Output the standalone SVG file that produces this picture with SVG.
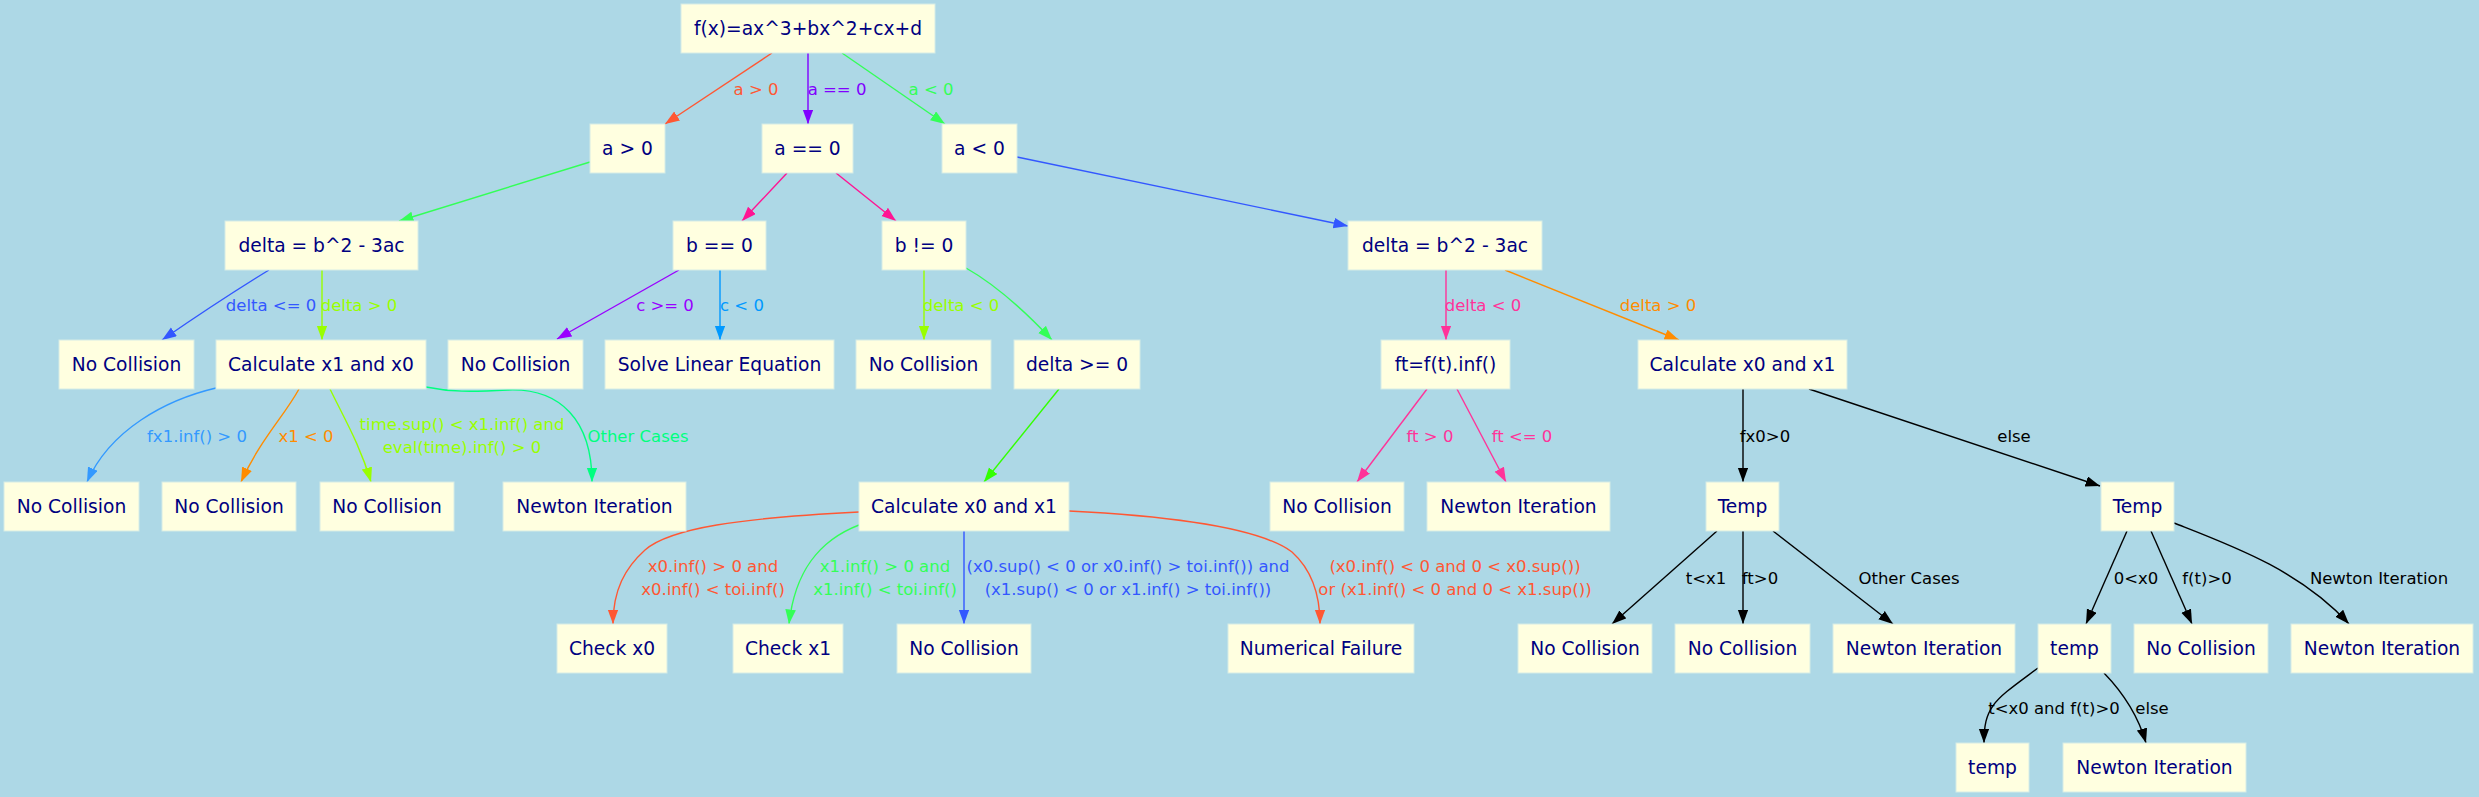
<svg xmlns="http://www.w3.org/2000/svg" width="2479" height="797" viewBox="0 0 2479 797">
<style>
.bg{fill:#ADD8E6}
.node rect{fill:#FFFFE0;stroke:#d6ece6;stroke-width:1}
.node text{font-family:"DejaVu Sans","Liberation Sans",sans-serif;font-size:18.67px;fill:#000080;text-anchor:middle}
.edges path{fill:none;stroke-width:1.4}
.lbl{font-family:"DejaVu Sans","Liberation Sans",sans-serif;font-size:16.5px;text-anchor:middle}
</style>
<defs>
<marker id="m-tomato" markerUnits="userSpaceOnUse" markerWidth="16" markerHeight="12" refX="14.5" refY="5.3" orient="auto"><path d="M0,0 L14.5,5.3 L0,10.6 z" fill="#FF5733"/></marker>
<marker id="m-purple" markerUnits="userSpaceOnUse" markerWidth="16" markerHeight="12" refX="14.5" refY="5.3" orient="auto"><path d="M0,0 L14.5,5.3 L0,10.6 z" fill="#8000FF"/></marker>
<marker id="m-purple2" markerUnits="userSpaceOnUse" markerWidth="16" markerHeight="12" refX="14.5" refY="5.3" orient="auto"><path d="M0,0 L14.5,5.3 L0,10.6 z" fill="#9900FF"/></marker>
<marker id="m-green" markerUnits="userSpaceOnUse" markerWidth="16" markerHeight="12" refX="14.5" refY="5.3" orient="auto"><path d="M0,0 L14.5,5.3 L0,10.6 z" fill="#33FF57"/></marker>
<marker id="m-deeppink" markerUnits="userSpaceOnUse" markerWidth="16" markerHeight="12" refX="14.5" refY="5.3" orient="auto"><path d="M0,0 L14.5,5.3 L0,10.6 z" fill="#FF1493"/></marker>
<marker id="m-blue" markerUnits="userSpaceOnUse" markerWidth="16" markerHeight="12" refX="14.5" refY="5.3" orient="auto"><path d="M0,0 L14.5,5.3 L0,10.6 z" fill="#3357FF"/></marker>
<marker id="m-yg" markerUnits="userSpaceOnUse" markerWidth="16" markerHeight="12" refX="14.5" refY="5.3" orient="auto"><path d="M0,0 L14.5,5.3 L0,10.6 z" fill="#99FF00"/></marker>
<marker id="m-sky" markerUnits="userSpaceOnUse" markerWidth="16" markerHeight="12" refX="14.5" refY="5.3" orient="auto"><path d="M0,0 L14.5,5.3 L0,10.6 z" fill="#0099FF"/></marker>
<marker id="m-lblue" markerUnits="userSpaceOnUse" markerWidth="16" markerHeight="12" refX="14.5" refY="5.3" orient="auto"><path d="M0,0 L14.5,5.3 L0,10.6 z" fill="#3399FF"/></marker>
<marker id="m-orange" markerUnits="userSpaceOnUse" markerWidth="16" markerHeight="12" refX="14.5" refY="5.3" orient="auto"><path d="M0,0 L14.5,5.3 L0,10.6 z" fill="#FF8C00"/></marker>
<marker id="m-spring" markerUnits="userSpaceOnUse" markerWidth="16" markerHeight="12" refX="14.5" refY="5.3" orient="auto"><path d="M0,0 L14.5,5.3 L0,10.6 z" fill="#00FF7F"/></marker>
<marker id="m-lime" markerUnits="userSpaceOnUse" markerWidth="16" markerHeight="12" refX="14.5" refY="5.3" orient="auto"><path d="M0,0 L14.5,5.3 L0,10.6 z" fill="#33FF00"/></marker>
<marker id="m-hotpink" markerUnits="userSpaceOnUse" markerWidth="16" markerHeight="12" refX="14.5" refY="5.3" orient="auto"><path d="M0,0 L14.5,5.3 L0,10.6 z" fill="#FF3399"/></marker>
<marker id="m-black" markerUnits="userSpaceOnUse" markerWidth="16" markerHeight="12" refX="14.5" refY="5.3" orient="auto"><path d="M0,0 L14.5,5.3 L0,10.6 z" fill="#000000"/></marker>
</defs>
<rect class="bg" x="0" y="0" width="2479" height="797"/>

<g id="connectors" class="edges">
<path d="M772,53 L665,124" stroke="#FF5733" marker-end="url(#m-tomato)"/>
<path d="M808,53 L808,124" stroke="#8000FF" marker-end="url(#m-purple)"/>
<path d="M842,53 L945,124" stroke="#33FF57" marker-end="url(#m-green)"/>
<path d="M590,162 L399,221" stroke="#33FF57" marker-end="url(#m-green)"/>
<path d="M787,173 L742,221" stroke="#FF1493" marker-end="url(#m-deeppink)"/>
<path d="M836,173 L896,221" stroke="#FF1493" marker-end="url(#m-deeppink)"/>
<path d="M1017,157 L1348,226" stroke="#3357FF" marker-end="url(#m-blue)"/>
<path d="M269,270 Q220,300 162,340" stroke="#3357FF" marker-end="url(#m-blue)"/>
<path d="M322,270 L322,340" stroke="#99FF00" marker-end="url(#m-yg)"/>
<path d="M679,270 L557,339" stroke="#9900FF" marker-end="url(#m-purple2)"/>
<path d="M720,270 L720,340" stroke="#0099FF" marker-end="url(#m-sky)"/>
<path d="M924,270 L924,340" stroke="#99FF00" marker-end="url(#m-yg)"/>
<path d="M966,268 Q1005,290 1052,340" stroke="#33FF57" marker-end="url(#m-green)"/>
<path d="M1446,270 L1446,340" stroke="#FF3399" marker-end="url(#m-hotpink)"/>
<path d="M1505,270 L1679,340" stroke="#FF8C00" marker-end="url(#m-orange)"/>
<path d="M216,388 C165,400 110,430 87,482" stroke="#3399FF" marker-end="url(#m-lblue)"/>
<path d="M299,389 C285,415 260,440 241,482" stroke="#FF8C00" marker-end="url(#m-orange)"/>
<path d="M330,389 C345,420 360,445 371,482" stroke="#99FF00" marker-end="url(#m-yg)"/>
<path d="M426,387 C450,392 470,392 508,390 C560,388 592,420 592,482" stroke="#00FF7F" marker-end="url(#m-spring)"/>
<path d="M1059,389 L984,482" stroke="#33FF00" marker-end="url(#m-lime)"/>
<path d="M1427,389 L1357,482" stroke="#FF3399" marker-end="url(#m-hotpink)"/>
<path d="M1457,389 L1506,482" stroke="#FF3399" marker-end="url(#m-hotpink)"/>
<path d="M1743,389 L1743,482" stroke="#000000" marker-end="url(#m-black)"/>
<path d="M1809,389 L2100,486" stroke="#000000" marker-end="url(#m-black)"/>
<path d="M859,512 C740,518 670,528 645,550 C625,568 613,590 613,624" stroke="#FF5733" marker-end="url(#m-tomato)"/>
<path d="M859,525 C820,540 795,570 789,624" stroke="#33FF57" marker-end="url(#m-green)"/>
<path d="M964,531 L964,624" stroke="#3357FF" marker-end="url(#m-blue)"/>
<path d="M1069,511 C1170,516 1260,528 1292,552 C1312,570 1320,595 1320,624" stroke="#FF5733" marker-end="url(#m-tomato)"/>
<path d="M1717,531 L1612,624" stroke="#000000" marker-end="url(#m-black)"/>
<path d="M1743,531 L1743,624" stroke="#000000" marker-end="url(#m-black)"/>
<path d="M1773,531 L1893,624" stroke="#000000" marker-end="url(#m-black)"/>
<path d="M2127,531 L2086,624" stroke="#000000" marker-end="url(#m-black)"/>
<path d="M2151,531 L2192,624" stroke="#000000" marker-end="url(#m-black)"/>
<path d="M2174,523 C2230,545 2300,570 2349,624" stroke="#000000" marker-end="url(#m-black)"/>
<path d="M2038,668 C1995,700 1984,705 1984,743" stroke="#000000" marker-end="url(#m-black)"/>
<path d="M2104,673 Q2135,705 2146,743" stroke="#000000" marker-end="url(#m-black)"/>

<text class="lbl" x="756" y="95" fill="#FF5733">a &gt; 0</text>
<text class="lbl" x="837" y="95" fill="#8000FF">a == 0</text>
<text class="lbl" x="931" y="95" fill="#33FF57">a &lt; 0</text>
<text class="lbl" x="271" y="311" fill="#3357FF">delta &lt;= 0</text>
<text class="lbl" x="359" y="311" fill="#99FF00">delta &gt; 0</text>
<text class="lbl" x="665" y="311" fill="#9900FF">c &gt;= 0</text>
<text class="lbl" x="742" y="311" fill="#0099FF">c &lt; 0</text>
<text class="lbl" x="961" y="311" fill="#99FF00">delta &lt; 0</text>
<text class="lbl" x="1483" y="311" fill="#FF3399">delta &lt; 0</text>
<text class="lbl" x="1658" y="311" fill="#FF8C00">delta &gt; 0</text>
<text class="lbl" x="197" y="442" fill="#3399FF">fx1.inf() &gt; 0</text>
<text class="lbl" x="306" y="442" fill="#FF8C00">x1 &lt; 0</text>
<text class="lbl" x="462" y="430" fill="#99FF00">time.sup() &lt; x1.inf() and</text>
<text class="lbl" x="462" y="453" fill="#99FF00">eval(time).inf() &gt; 0</text>
<text class="lbl" x="638" y="442" fill="#00FF7F">Other Cases</text>
<text class="lbl" x="1430" y="442" fill="#FF3399">ft &gt; 0</text>
<text class="lbl" x="1522" y="442" fill="#FF3399">ft &lt;= 0</text>
<text class="lbl" x="1765" y="442" fill="#000000">fx0&gt;0</text>
<text class="lbl" x="2014" y="442" fill="#000000">else</text>
<text class="lbl" x="713" y="572" fill="#FF5733">x0.inf() &gt; 0 and</text>
<text class="lbl" x="713" y="595" fill="#FF5733">x0.inf() &lt; toi.inf()</text>
<text class="lbl" x="885" y="572" fill="#33FF57">x1.inf() &gt; 0 and</text>
<text class="lbl" x="885" y="595" fill="#33FF57">x1.inf() &lt; toi.inf()</text>
<text class="lbl" x="1128" y="572" fill="#3357FF">(x0.sup() &lt; 0 or x0.inf() &gt; toi.inf()) and</text>
<text class="lbl" x="1128" y="595" fill="#3357FF">(x1.sup() &lt; 0 or x1.inf() &gt; toi.inf())</text>
<text class="lbl" x="1455" y="572" fill="#FF5733">(x0.inf() &lt; 0 and 0 &lt; x0.sup())</text>
<text class="lbl" x="1455" y="595" fill="#FF5733">or (x1.inf() &lt; 0 and 0 &lt; x1.sup())</text>
<text class="lbl" x="1706" y="584" fill="#000000">t&lt;x1</text>
<text class="lbl" x="1760" y="584" fill="#000000">ft&gt;0</text>
<text class="lbl" x="1909" y="584" fill="#000000">Other Cases</text>
<text class="lbl" x="2136" y="584" fill="#000000">0&lt;x0</text>
<text class="lbl" x="2207" y="584" fill="#000000">f(t)&gt;0</text>
<text class="lbl" x="2379" y="584" fill="#000000">Newton Iteration</text>
<text class="lbl" x="2054" y="714" fill="#000000">t&lt;x0 and f(t)&gt;0</text>
<text class="lbl" x="2152" y="714" fill="#000000">else</text>
</g>

<g id="n_root" class="node"><rect x="681" y="4" width="254" height="49"/><text x="808" y="35.3">f(x)=ax^3+bx^2+cx+d</text></g>
<g id="n_agt" class="node"><rect x="590" y="124" width="75" height="49"/><text x="627.5" y="155.3">a &gt; 0</text></g>
<g id="n_aeq" class="node"><rect x="762" y="124" width="91" height="49"/><text x="807.5" y="155.3">a == 0</text></g>
<g id="n_alt" class="node"><rect x="942" y="124" width="75" height="49"/><text x="979.5" y="155.3">a &lt; 0</text></g>
<g id="n_deltaL" class="node"><rect x="225" y="221" width="193" height="49"/><text x="321.5" y="252.3">delta = b^2 - 3ac</text></g>
<g id="n_beq" class="node"><rect x="673" y="221" width="93" height="49"/><text x="719.5" y="252.3">b == 0</text></g>
<g id="n_bne" class="node"><rect x="882" y="221" width="84" height="49"/><text x="924" y="252.3">b != 0</text></g>
<g id="n_deltaR" class="node"><rect x="1348" y="221" width="194" height="49"/><text x="1445" y="252.3">delta = b^2 - 3ac</text></g>
<g id="n_nc1" class="node"><rect x="59" y="340" width="135" height="49"/><text x="126.5" y="371.3">No Collision</text></g>
<g id="n_calcA" class="node"><rect x="216" y="340" width="210" height="49"/><text x="321" y="371.3">Calculate x1 and x0</text></g>
<g id="n_nc2" class="node"><rect x="448" y="340" width="135" height="49"/><text x="515.5" y="371.3">No Collision</text></g>
<g id="n_solve" class="node"><rect x="605" y="340" width="229" height="49"/><text x="719.5" y="371.3">Solve Linear Equation</text></g>
<g id="n_nc3" class="node"><rect x="856" y="340" width="135" height="49"/><text x="923.5" y="371.3">No Collision</text></g>
<g id="n_dge" class="node"><rect x="1014" y="340" width="126" height="49"/><text x="1077" y="371.3">delta &gt;= 0</text></g>
<g id="n_ft" class="node"><rect x="1381" y="340" width="129" height="49"/><text x="1445.5" y="371.3">ft=f(t).inf()</text></g>
<g id="n_calcR" class="node"><rect x="1638" y="340" width="209" height="49"/><text x="1742.5" y="371.3">Calculate x0 and x1</text></g>
<g id="n_nc4" class="node"><rect x="4" y="482" width="135" height="49"/><text x="71.5" y="513.3">No Collision</text></g>
<g id="n_nc5" class="node"><rect x="162" y="482" width="134" height="49"/><text x="229" y="513.3">No Collision</text></g>
<g id="n_nc6" class="node"><rect x="320" y="482" width="134" height="49"/><text x="387" y="513.3">No Collision</text></g>
<g id="n_newton1" class="node"><rect x="503" y="482" width="183" height="49"/><text x="594.5" y="513.3">Newton Iteration</text></g>
<g id="n_calcM" class="node"><rect x="859" y="482" width="210" height="49"/><text x="964" y="513.3">Calculate x0 and x1</text></g>
<g id="n_nc7" class="node"><rect x="1270" y="482" width="134" height="49"/><text x="1337" y="513.3">No Collision</text></g>
<g id="n_newton2" class="node"><rect x="1427" y="482" width="183" height="49"/><text x="1518.5" y="513.3">Newton Iteration</text></g>
<g id="n_temp1" class="node"><rect x="1706" y="482" width="73" height="49"/><text x="1742.5" y="513.3">Temp</text></g>
<g id="n_temp2" class="node"><rect x="2101" y="482" width="73" height="49"/><text x="2137.5" y="513.3">Temp</text></g>
<g id="n_chk0" class="node"><rect x="557" y="624" width="110" height="49"/><text x="612" y="655.3">Check x0</text></g>
<g id="n_chk1" class="node"><rect x="733" y="624" width="110" height="49"/><text x="788" y="655.3">Check x1</text></g>
<g id="n_nc8" class="node"><rect x="897" y="624" width="134" height="49"/><text x="964" y="655.3">No Collision</text></g>
<g id="n_numfail" class="node"><rect x="1228" y="624" width="186" height="49"/><text x="1321" y="655.3">Numerical Failure</text></g>
<g id="n_nc9" class="node"><rect x="1518" y="624" width="134" height="49"/><text x="1585" y="655.3">No Collision</text></g>
<g id="n_nc10" class="node"><rect x="1675" y="624" width="135" height="49"/><text x="1742.5" y="655.3">No Collision</text></g>
<g id="n_newton3" class="node"><rect x="1833" y="624" width="182" height="49"/><text x="1924" y="655.3">Newton Iteration</text></g>
<g id="n_temp3" class="node"><rect x="2038" y="624" width="73" height="49"/><text x="2074.5" y="655.3">temp</text></g>
<g id="n_nc11" class="node"><rect x="2134" y="624" width="134" height="49"/><text x="2201" y="655.3">No Collision</text></g>
<g id="n_newton4" class="node"><rect x="2291" y="624" width="182" height="49"/><text x="2382" y="655.3">Newton Iteration</text></g>
<g id="n_temp4" class="node"><rect x="1956" y="743" width="73" height="49"/><text x="1992.5" y="774.3">temp</text></g>
<g id="n_newton5" class="node"><rect x="2063" y="743" width="183" height="49"/><text x="2154.5" y="774.3">Newton Iteration</text></g>
</svg>
